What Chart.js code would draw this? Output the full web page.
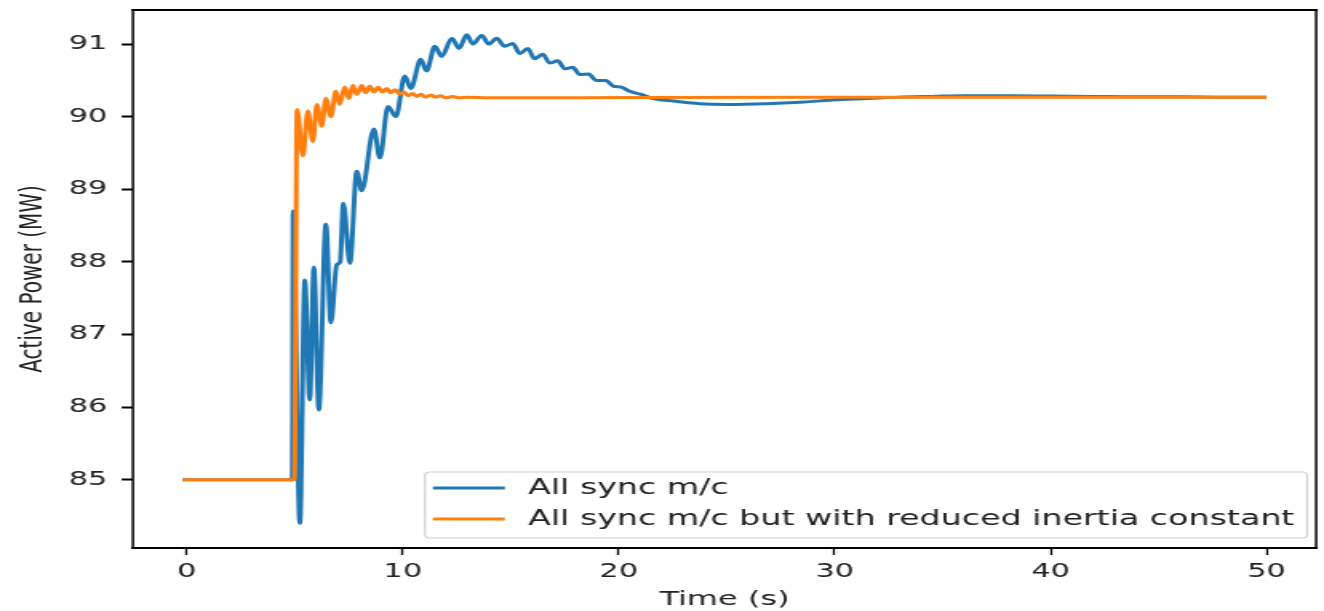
<!DOCTYPE html>
<html>
<head>
<meta charset="utf-8">
<script src="https://cdn.jsdelivr.net/npm/chart.js@4.4.1/dist/chart.umd.min.js"></script>
<style>
  html, body { margin: 0; padding: 0; background: #fff; overflow: hidden; }
  #wrap {
    position: absolute; left: 0; top: 0;
    width: 828px; height: 611px;
    transform: scaleX(1.599); transform-origin: 0 0;
  }
</style>
</head>
<body>
<div id="wrap"><canvas id="c"></canvas></div>
<script>
// Active power response of the machine after the disturbance at t = 5 s
const seriesLabels = [
  'All sync m/c',
  'All sync m/c but with reduced inertia constant'
];

// Full-inertia case
const syncTime = [-0.2, 4.88, 4.92, 5.23, 5.46, 5.69, 5.88, 6.11, 6.44, 6.67, 6.94, 7.1, 7.25, 7.55,
  7.87, 8.1, 8.66, 8.94, 9.31, 9.68, 10.09, 10.37, 10.83, 11.1, 11.48, 11.8, 12.27, 12.6, 12.96,
  13.24, 13.66, 13.98, 14.35, 14.72, 15.09, 15.42, 15.79, 16.1, 16.48, 16.8, 17.18, 17.5, 17.87,
  18.2, 18.6, 18.95, 19.4, 19.75, 20.1, 20.5, 21.0, 21.6, 22.7, 23.75, 25, 26.85, 28.4, 29.9,
  31.5, 33, 34.5, 36.1, 38, 40, 42, 44, 46, 48, 50];
const syncMW = [85, 85, 88.7, 84.4, 87.75, 86.1, 87.93, 85.96, 88.52, 87.16, 87.96, 88.0, 88.81, 87.98,
  89.25, 88.98, 89.83, 89.43, 90.14, 90.0, 90.56, 90.39, 90.79, 90.63, 90.97, 90.83, 91.08, 90.94, 91.13,
  91.0, 91.12, 91.0, 91.08, 90.97, 91.01, 90.87, 90.94, 90.8, 90.86, 90.74, 90.77, 90.66, 90.68,
  90.58, 90.59, 90.5, 90.5, 90.42, 90.41, 90.35, 90.31, 90.25, 90.21, 90.18, 90.17, 90.18, 90.2, 90.23,
  90.25, 90.27, 90.28, 90.29, 90.29, 90.285, 90.28, 90.275, 90.275, 90.27, 90.27];

// Reduced-inertia case
const lowInertiaTime = [-0.2, 4.98, 5.1, 5.37, 5.6, 5.83, 6.02, 6.25, 6.44, 6.67, 6.9, 7.08, 7.31, 7.5,
  7.69, 7.87, 8.1, 8.29, 8.47, 8.67, 8.86, 9.05, 9.25, 9.45, 9.65, 9.85, 10.05, 10.25, 10.45, 10.65,
  10.85, 11.05, 11.3, 11.5, 11.75, 12.0, 12.3, 12.6, 13, 14, 16, 20, 30, 40, 50];
const lowInertiaMW = [85, 85, 90.1, 89.46, 90.08, 89.66, 90.17, 89.87, 90.25, 90.0, 90.35, 90.17, 90.41, 90.25,
  90.43, 90.31, 90.43, 90.33, 90.42, 90.34, 90.41, 90.34, 90.39, 90.33, 90.37, 90.31, 90.34, 90.29, 90.32, 90.28,
  90.31, 90.27, 90.3, 90.27, 90.29, 90.26, 90.28, 90.26, 90.27, 90.26, 90.26, 90.265, 90.27, 90.27, 90.27];

const xTickValues = [0, 10, 20, 30, 40, 50];
const yTickValues = [85, 86, 87, 88, 89, 90, 91];

const toPoints = (ts, vs) => ts.map((t, i) => ({ x: t, y: vs[i] }));

// Closed black frame around the plotting area
const axesFrame = {
  id: 'axesFrame',
  afterDraw(chart) {
    const { ctx, chartArea: a } = chart;
    ctx.save();
    ctx.strokeStyle = '#000';
    ctx.lineCap = 'square';
    ctx.lineWidth = 2;
    ctx.beginPath();
    ctx.moveTo(a.left, a.top); ctx.lineTo(a.right, a.top);
    ctx.moveTo(a.left, a.bottom); ctx.lineTo(a.right, a.bottom);
    ctx.stroke();
    ctx.lineWidth = 1.5;
    ctx.beginPath();
    ctx.moveTo(a.left, a.top); ctx.lineTo(a.left, a.bottom);
    ctx.moveTo(a.right, a.top); ctx.lineTo(a.right, a.bottom);
    ctx.stroke();
    ctx.restore();
  }
};

// Framed legend in the lower right corner of the plot
const framedLegend = {
  id: 'framedLegend',
  afterDraw(chart) {
    const { ctx, chartArea: a } = chart;
    const sets = chart.data.datasets;
    ctx.save();
    ctx.font = '20.8px "DejaVu Sans"';
    const textW = Math.max(...sets.map(d => ctx.measureText(d.label).width));
    const padL = 5, sampleW = 45, gap = 14.5, padR = 8, padT = 16, rowH = 31;
    const w = padL + sampleW + gap + textW + padR;
    const h = 66;
    const right = a.right - 5.6, bottom = a.bottom - 10;
    const left = right - w, top = bottom - h;
    ctx.fillStyle = 'rgba(255,255,255,0.85)';
    ctx.strokeStyle = '#d0d0d0';
    ctx.lineWidth = 1.2;
    ctx.beginPath();
    ctx.roundRect(left, top, w, h, 3);
    ctx.fill();
    ctx.stroke();
    sets.forEach((d, i) => {
      const y = top + padT + i * rowH;
      ctx.strokeStyle = d.borderColor;
      ctx.lineWidth = 2.8;
      ctx.beginPath();
      ctx.moveTo(left + padL, y);
      ctx.lineTo(left + padL + sampleW, y);
      ctx.stroke();
      ctx.fillStyle = '#222';
      ctx.textBaseline = 'middle';
      ctx.textAlign = 'left';
      ctx.fillText(d.label, left + padL + sampleW + gap, y + 1);
    });
    ctx.restore();
  }
};

new Chart(document.getElementById('c'), {
  type: 'line',
  data: {
    datasets: [
      {
        label: seriesLabels[0],
        data: toPoints(syncTime, syncMW),
        borderColor: '#1f77b4',
        borderWidth: 3,
        pointRadius: 0,
        cubicInterpolationMode: 'monotone',
        order: 1
      },
      {
        label: seriesLabels[1],
        data: toPoints(lowInertiaTime, lowInertiaMW),
        borderColor: '#ff7f0e',
        borderWidth: 3,
        pointRadius: 0,
        cubicInterpolationMode: 'monotone',
        order: 0
      }
    ]
  },
  options: {
    responsive: true,
    maintainAspectRatio: false,
    animation: false,
    events: [],
    layout: { padding: { top: 10, right: 4.9, left: 0, bottom: 0 } },
    plugins: { legend: { display: false }, tooltip: { enabled: false } },
    scales: {
      x: {
        type: 'linear',
        min: -2.5,
        max: 52.3,
        afterBuildTicks: s => { s.ticks = xTickValues.map(v => ({ value: v })); },
        afterFit: s => { s.height = 63; s.paddingLeft = 0; s.paddingRight = 0; },
        border: { display: false },
        grid: { drawOnChartArea: false, drawTicks: true, tickLength: 7, tickColor: '#000', tickWidth: 1.3 },
        ticks: { color: '#222', font: { family: 'DejaVu Sans', size: 19 }, padding: 6, maxRotation: 0 },
        title: {
          display: true,
          text: 'Time (s)',
          color: '#222',
          font: { family: 'DejaVu Sans', size: 20, lineHeight: 1.1 },
          padding: { top: 0, bottom: 0 }
        }
      },
      y: {
        type: 'linear',
        min: 84.06,
        max: 91.47,
        afterBuildTicks: s => { s.ticks = yTickValues.map(v => ({ value: v })); },
        afterFit: s => { s.width = 83.1; s.paddingTop = 0; s.paddingBottom = 0; },
        border: { display: false },
        grid: { drawOnChartArea: false, drawTicks: true, tickLength: 7, tickColor: '#000', tickWidth: 2 },
        ticks: { color: '#222', font: { family: 'DejaVu Sans', size: 19 }, padding: 9 },
        title: {
          display: true,
          text: 'Active Power (MW)',
          color: '#222',
          font: { family: 'DejaVu Sans', size: 20, lineHeight: 1.2 },
          padding: { top: 8.5, bottom: 0 }
        }
      }
    }
  },
  plugins: [axesFrame, framedLegend]
});
</script>
</body>
</html>
